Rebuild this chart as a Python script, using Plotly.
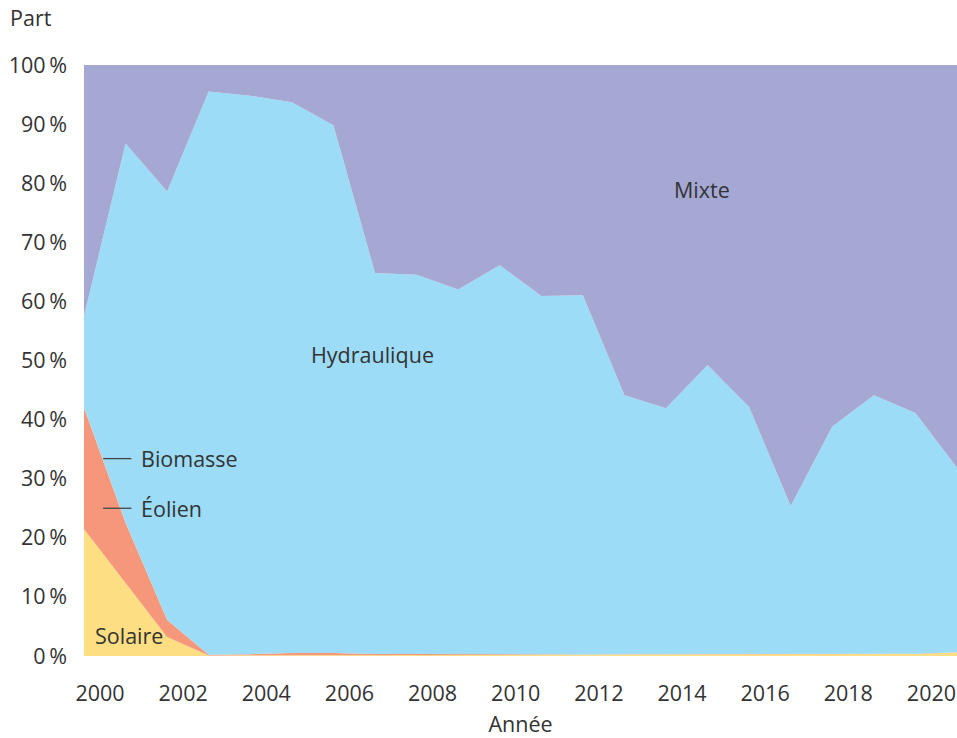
import plotly.graph_objects as go

years = list(range(2000, 2022))

solaire = [21.5, 12.4, 3.2, 0.1, 0.1, 0.1, 0.1, 0.1, 0.1, 0.1, 0.1,
           0.15, 0.2, 0.25, 0.25, 0.3, 0.3, 0.3, 0.3, 0.3, 0.35, 0.6]
eolien = [20.5, 10.1, 2.9, 0.1, 0.2, 0.4, 0.4, 0.25, 0.25, 0.2, 0.15,
          0.1, 0.05, 0.05, 0.05, 0.05, 0.05, 0.05, 0.05, 0.05, 0.05, 0.05]
biomasse = [0.1, 0.1, 0.05, 0, 0, 0, 0, 0, 0, 0, 0,
            0, 0, 0, 0, 0, 0, 0, 0, 0, 0, 0]
hydraulique = [15.4, 64.1, 72.5, 95.3, 94.5, 93.2, 89.3, 64.5, 64.2, 61.7, 65.9,
               60.7, 60.8, 43.8, 41.6, 48.9, 41.8, 25.0, 38.5, 43.8, 40.7, 31.2]
mixte = [42.5, 13.3, 21.4, 4.5, 5.2, 6.3, 10.2, 35.2, 35.5, 38.0, 33.9,
         39.1, 39.0, 55.9, 58.1, 50.8, 57.9, 74.6, 61.2, 55.9, 58.9, 68.2]

series = [
    ("Solaire", solaire, "#FDDE82"),
    ("Éolien", eolien, "#F4977B"),
    ("Biomasse", biomasse, "#F4977B"),
    ("Hydraulique", hydraulique, "#9CDCF6"),
    ("Mixte", mixte, "#A6A8D4"),
]

tick_years = list(range(2000, 2021, 2))
y_ticks = list(range(0, 101, 10))

FONT = "Open Sans"
TXT = "#333333"
FS = 21.5
W = 400

fig = go.Figure()
for name, vals, col in series:
    fig.add_trace(go.Scatter(
        x=years, y=vals, name=name, mode="lines",
        stackgroup="one", groupnorm="percent",
        line=dict(width=0, color=col), fillcolor=col,
        hoverinfo="skip", showlegend=False,
    ))

labels = [
    ("Hydraulique", 2006.93, 51.1, "center"),
    ("Mixte", 2014.87, 78.9, "center"),
    ("Solaire", 2001.08, 3.4, "center"),
    ("Biomasse", 2001.32, 33.4, "left"),
    ("Éolien", 2001.32, 25.0, "left"),
]
for txt, x, y, anc in labels:
    fig.add_annotation(x=x, y=y, text=txt, showarrow=False, xanchor=anc,
                       yanchor="middle",
                       font=dict(family=FONT, size=FS, color=TXT, weight=W))

for y in (33.4, 25.0):
    fig.add_shape(type="line", x0=2000.46, x1=2001.14, y0=y, y1=y,
                  line=dict(color="#444444", width=1.3))

fig.add_annotation(xref="paper", yref="paper", x=-0.087, y=1.08, xanchor="left",
                   yanchor="middle", text="Part", showarrow=False,
                   font=dict(family=FONT, size=FS, color=TXT, weight=W))

fig.update_layout(
    width=957, height=738,
    margin=dict(l=84, r=0, t=65, b=82),
    paper_bgcolor="white", plot_bgcolor="white",
    font=dict(family=FONT, size=FS, color=TXT, weight=W),
    xaxis=dict(range=[2000, 2021], tickvals=tick_years,
               ticktext=[str(y) for y in tick_years],
               showgrid=False, zeroline=False, showline=False, ticks="",
               ticklabelshift=16, ticklabelstandoff=22, automargin=False,
               tickfont=dict(family=FONT, size=FS, color=TXT, weight=W),
               title=dict(text="Année", standoff=18,
                          font=dict(family=FONT, size=FS, color=TXT, weight=W))),
    yaxis=dict(range=[0, 100], tickvals=y_ticks,
               ticktext=[f"{v}\u2009%" for v in y_ticks],
               showgrid=False, zeroline=False, showline=False, ticks="",
               tickfont=dict(family=FONT, size=FS, color=TXT, weight=W),
               ticklabelstandoff=16, automargin=False),
)

fig.write_html("out.html", config={"displayModeBar": False},
               post_script="document.body.style.margin='0px';document.body.style.overflow='hidden';")
